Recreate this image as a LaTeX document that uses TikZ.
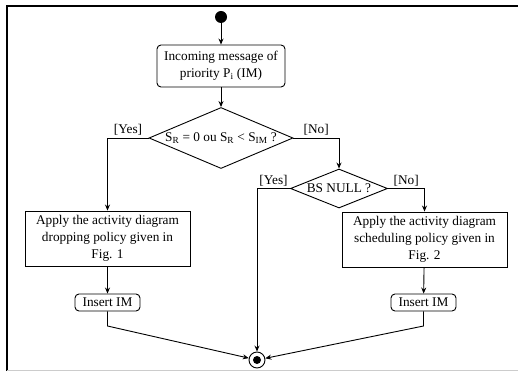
\documentclass[tikz,border=0pt]{standalone}
\usepackage{fontspec}
\setmainfont{Liberation Serif}
\usetikzlibrary{shapes.geometric, arrows.meta, positioning}

\begin{document}
\begin{tikzpicture}[
    x=1pt, y=-1pt,
    every node/.style={font=\fontsize{13.3}{17}\selectfont},
    action/.style={draw, line width=0.9pt, rounded corners=4pt, align=center, inner sep=2pt},
    activity/.style={draw, line width=0.9pt, align=center, inner sep=0pt, minimum width=165pt, minimum height=55pt},
    decision/.style={draw, diamond, line width=0.9pt, inner sep=0pt},
    startstate/.style={circle, fill, inner sep=0pt, minimum size=12pt},
    endstate/.style={circle, draw, line width=0.9pt, inner sep=0pt, minimum size=16pt,
        path picture={\fill (path picture bounding box.center) circle (4pt);}},
    guard/.style={above=0pt, inner sep=2pt},
    arrow/.style={-{Stealth[length=6pt, width=5pt]}, line width=0.9pt}
]
    \useasboundingbox (0,0) rectangle (518,371);
    % Frame
    \draw[line width=1.5pt] (7,371) -- (7,6) -- (518,6);
    \draw[black!20] (7,370) -- (518,370);

    % Nodes
    \node[startstate] (start) at (221,17) {};
    \node[action, minimum width=128pt, minimum height=42pt] (incoming) at (221,66)
        {Incoming message of\\priority P\textsubscript{i} (IM)};
    \node[decision, minimum width=144pt, minimum height=61pt,
        label=center:{S\textsubscript{R} = 0 ou S\textsubscript{R} < S\textsubscript{IM} ?}] (check) at (221,138) {};
    \node[decision, minimum width=97pt, minimum height=39pt,
        label=center:{BS NULL ?}] (bsnull) at (339,188.5) {};
    \node[activity] (dropping) at (107.5,238.5)
        {Apply the activity diagram\\dropping policy given in\\Fig. 1};
    \node[activity] (scheduling) at (424.5,239.5)
        {Apply the activity diagram\\scheduling policy given in\\Fig. 2};
    \node[action, minimum width=65pt, minimum height=17pt] (insertL) at (107.5,302.5) {Insert IM};
    \node[action, minimum width=65pt, minimum height=17pt] (insertR) at (423.5,302.5) {Insert IM};
    \node[endstate] (final) at (257,360) {};
    \coordinate (bendL) at (107.5,326);
    \coordinate (bendR) at (423.5,326);

    % Arrows
    \draw[arrow] (start) -- (incoming);
    \draw[arrow] (incoming) -- (check);
    \draw[arrow] (check.west) -| node[guard, pos=0.25] {[Yes]} (dropping.north);
    \draw[arrow] (check.east) -| node[guard, pos=0.25] {[No]} (bsnull.north);
    \draw[arrow] (bsnull.west) -| node[guard, pos=0.25] {[Yes]} (final.north);
    \draw[arrow] (bsnull.east) -| node[guard, pos=0.25] {[No]} (scheduling.north);
    \draw[arrow] (dropping) -- (insertL);
    \draw[arrow] (scheduling) -- (insertR);
    \draw[arrow] (insertL) -- (bendL) -- (final);
    \draw[arrow] (insertR) -- (bendR) -- (final);
\end{tikzpicture}
\end{document}
